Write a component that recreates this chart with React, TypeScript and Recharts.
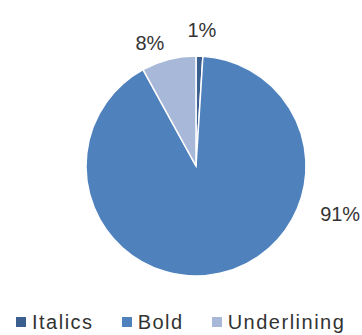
import { PieChart, Pie, Cell, Legend } from 'recharts'

const categories = ['Italics', 'Bold', 'Underlining']
const shares = [1, 91, 8]
const colors = ['#3B5F8F', '#4F81BD', '#A8B8D8']

// Excel "best fit" label spots: angle (deg, recharts convention) and gap beyond the rim
const labelSpots = [
    { angle: 87.5, gap: 26 },
    { angle: -18.5, gap: 42 },
    { angle: 110.6, gap: 21 },
]

const data = categories.map((name, i) => ({ name, value: shares[i] }))

const RAD = Math.PI / 180
const font = '"Liberation Sans", Arial, sans-serif'

function renderLabel(props: any) {
    const { cx, cy, outerRadius, index, value } = props
    const spot = labelSpots[index]
    const r = outerRadius + spot.gap
    const x = cx + r * Math.cos(-spot.angle * RAD)
    const y = cy + r * Math.sin(-spot.angle * RAD)
    return (
        <text
            x={x}
            y={y}
            textAnchor="middle"
            dominantBaseline="central"
            fill="#333"
            fontSize={20}
            fontFamily={font}
        >
            {`${value}%`}
        </text>
    )
}

function renderLegend() {
    return (
        <div style={{ display: 'flex', alignItems: 'center', fontFamily: font }}>
            {categories.map((name, i) => (
                <div
                    key={name}
                    style={{
                        display: 'flex',
                        alignItems: 'center',
                        marginRight: i < categories.length - 1 ? 28 : 0,
                    }}
                >
                    <span
                        style={{
                            width: 10,
                            height: 10,
                            background: colors[i],
                            marginRight: 6,
                            display: 'inline-block',
                        }}
                    />
                    <span
                        style={{
                            fontSize: 20,
                            lineHeight: '20px',
                            letterSpacing: 1.5,
                            color: '#333',
                        }}
                    >
                        {name}
                    </span>
                </div>
            ))}
        </div>
    )
}

export default function App() {
    return (
        <div style={{ position: 'absolute', left: 0, top: 0, background: '#fff' }}>
            <PieChart width={362} height={335}>
                <Pie
                    data={data}
                    dataKey="value"
                    nameKey="name"
                    cx={191}
                    cy={161}
                    outerRadius={110}
                    startAngle={90}
                    endAngle={-270}
                    stroke="#fff"
                    strokeWidth={1.5}
                    label={renderLabel}
                    labelLine={false}
                    isAnimationActive={false}
                >
                    {data.map((d, i) => (
                        <Cell key={d.name} fill={colors[i]} />
                    ))}
                </Pie>
                <Legend
                    content={renderLegend}
                    wrapperStyle={{ position: 'absolute', left: 16, top: 312, width: 'auto' }}
                />
            </PieChart>
        </div>
    )
}
